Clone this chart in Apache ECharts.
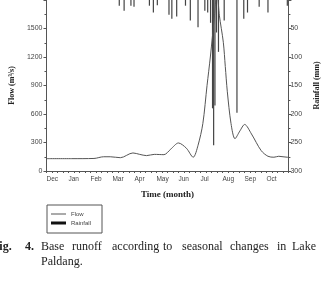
<!DOCTYPE html>
<html><head><meta charset="utf-8">
<script src="https://cdn.jsdelivr.net/npm/echarts@6/dist/echarts.min.js"></script>
<style>html,body{margin:0;padding:0;background:#fff}#c{width:329px;height:290px}</style>
</head><body><div id="c"></div>
<script>
// Month labels (axis runs from start of Dec to start of Nov, in month units)
var monthLabels = ['Dec','Jan','Feb','Mar','Apr','May','Jun','Jul','Aug','Sep','Oct',''];
// Flow (m3/s) — x in months from 1 Dec
var flowMonth = [0, 1.15, 2.16, 2.6, 2.9, 3.36, 3.93, 4.24, 4.55, 4.9, 5.34, 5.65, 6.0, 6.36, 6.67, 6.89, 7.11, 7.30, 7.45, 7.64, 7.75, 7.86, 8.04, 8.13, 8.22, 8.39, 8.57, 8.79, 9.01, 9.32, 9.76, 10.07, 10.34, 10.56, 10.95, 11];
var flowValue = [130, 130, 132, 150, 150, 140, 190, 175, 162, 175, 172, 230, 295, 240, 145, 270, 500, 900, 1200, 1640, 1900, 1640, 1355, 1100, 840, 500, 340, 420, 490, 390, 215, 155, 145, 155, 145, 145];
// Rainfall (mm)
var rainMonth = [3.31, 3.53, 3.84, 3.98, 4.68, 4.86, 5.04, 5.57, 5.70, 5.92, 6.32, 6.54, 6.89, 7.20, 7.33, 7.46, 7.55, 7.60, 7.66, 7.73, 7.82, 8.08, 8.66, 8.97, 9.14, 9.67, 10.07, 10.95];
var rainMm =    [10, 19, 10, 12, 10, 22, 9, 26, 33, 29, 10, 36, 48, 19, 22, 40, 190, 255, 185, 57, 91, 36, 198, 33, 22, 12, 22, 10];
// Axis tick values
var flowTicks = {min: 0, max: 1800, interval: 300};
var rainTicks = {min: 0, max: 300, interval: 50};
// Caption words
var captionLine1 = [['Fig.', -8, true], ['4.', 25, true], ['Base', 41, false], ['runoff', 72, false], ['according', 112, false], ['to', 163, false], ['seasonal', 182, false], ['changes', 230, false], ['in', 277, false], ['Lake', 292, false]];
var captionLine2 = [['Paldang.', 41, false]];

var chart = echarts.init(document.getElementById('c'), null, {renderer: 'canvas'});
var axisCol = '#555';
var labelStyle = {color: '#444', fontFamily: 'Liberation Sans, Arial', fontSize: 7};
var nameStyle = {color: '#222', fontFamily: 'Liberation Serif', fontWeight: 'bold', fontSize: 8};

var graphics = [];
captionLine1.forEach(function (w) {
  graphics.push({type: 'text', left: w[1], top: 241, style: {text: w[0], font: (w[2] ? 'bold ' : '') + '12px "Liberation Serif"', fill: '#222'}});
});
captionLine2.forEach(function (w) {
  graphics.push({type: 'text', left: w[1], top: 256, style: {text: w[0], font: (w[2] ? 'bold ' : '') + '12px "Liberation Serif"', fill: '#222'}});
});

chart.setOption({
  animation: false,
  backgroundColor: '#fff',
  grid: {left: 44, right: 36, top: -3, bottom: 119, containLabel: false},
  legend: {
    orient: 'vertical', left: 47, top: 205,
    padding: [6, 11, 7, 4],
    borderColor: '#555', borderWidth: 1,
    itemWidth: 15, itemHeight: 3, itemGap: 3,
    textStyle: {color: '#444', fontSize: 6, fontFamily: 'Liberation Sans, Arial', lineHeight: 6},
    data: [
      {name: 'Flow', icon: 'path://M0,0H18V1H0Z', itemStyle: {color: '#333'}},
      {name: 'Rainfall', icon: 'rect', itemStyle: {color: '#111'}}
    ]
  },
  xAxis: {
    type: 'value', min: 0, max: 11, interval: 1,
    name: 'Time (month)', nameLocation: 'middle', nameGap: 19, nameTextStyle: Object.assign({}, nameStyle, {fontSize: 9}),
    axisLine: {lineStyle: {color: axisCol, width: 1}},
    axisTick: {show: true, length: 2, lineStyle: {color: axisCol}},
    minorTick: {show: true, splitNumber: 4, length: 2, lineStyle: {color: axisCol}},
    splitLine: {show: false},
    axisLabel: Object.assign({}, labelStyle, {fontSize: 6.5, margin: 5, align: 'left',
      formatter: function (v) { return monthLabels[Math.round(v)] || ''; }})
  },
  yAxis: [{
    type: 'value', min: flowTicks.min, max: flowTicks.max, interval: flowTicks.interval,
    name: 'Flow (m³/s)', nameLocation: 'middle', nameGap: 27, nameRotate: 90, nameTextStyle: nameStyle,
    axisLine: {show: true, lineStyle: {color: axisCol}},
    axisTick: {show: true, length: 3, lineStyle: {color: axisCol}},
    minorTick: {show: true, splitNumber: 2, length: 2, lineStyle: {color: axisCol}},
    splitLine: {show: false},
    axisLabel: Object.assign({}, labelStyle, {margin: 4, showMaxLabel: false,
      formatter: function (v) { return String(v); }})
  }, {
    type: 'value', min: rainTicks.min, max: rainTicks.max, interval: rainTicks.interval, inverse: true,
    position: 'right',
    name: 'Rainfall (mm)', nameLocation: 'middle', nameGap: 24, nameRotate: 90, nameTextStyle: nameStyle,
    axisLine: {show: true, lineStyle: {color: axisCol}},
    axisTick: {show: true, length: 3, lineStyle: {color: axisCol}},
    minorTick: {show: true, splitNumber: 2, length: 2, lineStyle: {color: axisCol}},
    splitLine: {show: false},
    axisLabel: Object.assign({}, labelStyle, {margin: 2, showMinLabel: false,
      formatter: function (v) { return String(v); }})
  }],
  series: [{
    name: 'Flow', type: 'line', yAxisIndex: 0, smooth: 0.3, symbol: 'none',
    lineStyle: {color: '#555', width: 1}, itemStyle: {color: '#333'},
    data: flowMonth.map(function (m, i) { return [m, flowValue[i]]; })
  }, {
    name: 'Rainfall', type: 'bar', yAxisIndex: 1, barWidth: 1.2,
    itemStyle: {color: '#444'},
    data: rainMonth.map(function (m, i) { return [m, rainMm[i]]; })
  }],
  graphic: graphics
});
</script></body></html>
